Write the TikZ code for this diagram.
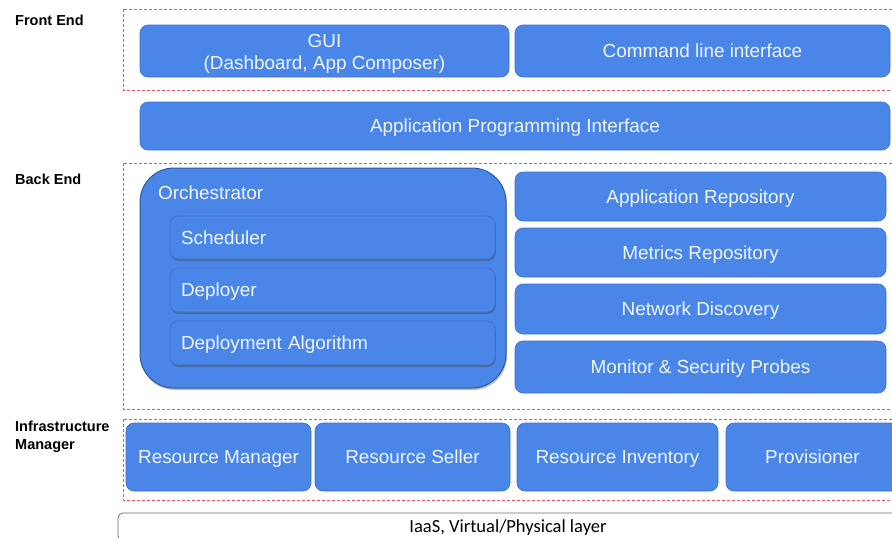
\documentclass[tikz,border=0pt]{standalone}
\usepackage{fontspec}
\setmainfont{Liberation Sans}
\newfontfamily\calfont{Carlito}
\usetikzlibrary{shadows}
\definecolor{cblue}{RGB}{74,134,232}
\definecolor{cedge}{RGB}{60,112,205}
\definecolor{ctext}{RGB}{240,244,255}
\definecolor{cdash}{RGB}{238,80,92}
\definecolor{cgray}{RGB}{110,110,110}
\tikzset{
  blk/.style={rectangle, rounded corners=8pt, fill=cblue, draw=cedge, line width=0.6pt,
    text=ctext, inner sep=0pt, font=\fontsize{18.9}{22.5}\selectfont, align=center,
    text height=13.5pt, text depth=0pt},
  inner/.style={blk, drop shadow={shadow xshift=0.8pt, shadow yshift=-2pt, fill=black!70, opacity=0.45},
    minimum width=325pt, minimum height=43pt, text width=303pt, align=left},
  orch/.style={rectangle, rounded corners=34pt, fill=cblue, draw=cedge!80!black, line width=1pt,
    drop shadow={shadow xshift=1pt, shadow yshift=-2pt, fill=black!60, opacity=0.45}},
  group/.style={draw=cdash, dash pattern=on 3pt off 2pt, line width=1pt},
  layer/.style={font=\bfseries\fontsize{14.5}{18}\selectfont, anchor=north west, inner sep=0pt, align=left},
}
\begin{document}
\begin{tikzpicture}[x=1pt,y=-1pt]
\useasboundingbox (0,0) rectangle (892,538);
\clip (0,0) rectangle (892,538);
\fill[white] (0,0) rectangle (892,538);

% layer captions
\node[layer] (lfe) at (15,15) {Front End};
\node[layer] (lbe) at (15,174) {Back End};
\node[layer] (lim) at (15,421) {Infrastructure\\Manager};

% dashed groups
\draw[group] (123,9) rectangle (894,90);
\draw[group] (123,163) rectangle (894,409);
\draw[group] (123,419) rectangle (894,500);

% front end
\node[blk, minimum width=369pt, minimum height=52pt, text height=37.4pt, text depth=0pt] (gui) at (324.5,51) {GUI\\(Dashboard, App Composer)};
\node[blk, minimum width=375pt, minimum height=52pt] (cli) at (702.5,51) {Command line interface};

% API
\node[blk, minimum width=750pt, minimum height=48pt] (api) at (515,126) {Application Programming Interface};

% orchestrator
\node[orch, minimum width=366pt, minimum height=220pt] (orc) at (323,278) {};
\node[anchor=west, inner sep=0pt, text=ctext, font=\fontsize{18.9}{22}\selectfont,
      text height=13.5pt, text depth=0pt] (orct) at (158,193) {Orchestrator};
\node[inner] (sch) at (332.5,237.5) {Scheduler};
\node[inner, minimum height=44pt] (dep) at (332.5,290) {Deployer};
\node[inner, minimum height=44pt] (alg) at (332.5,343) {Deployment Algorithm};

% back-end services
\node[blk, minimum width=371pt, minimum height=49pt] (arep) at (700.5,196.5) {Application Repository};
\node[blk, minimum width=371pt, minimum height=49pt] (mrep) at (700.5,252.5) {Metrics Repository};
\node[blk, minimum width=371pt, minimum height=50pt] (net) at (700.5,309) {Network Discovery};
\node[blk, minimum width=371pt, minimum height=52pt] (mon) at (700.5,367) {Monitor \& Security Probes};

% infrastructure manager
\node[blk, minimum width=185pt, minimum height=68pt] (rman) at (218.5,457) {Resource Manager};
\node[blk, minimum width=195pt, minimum height=68pt] (rsel) at (412.5,457) {Resource Seller};
\node[blk, minimum width=201pt, minimum height=68pt] (rinv) at (617.5,457) {Resource Inventory};
\node[blk, minimum width=173pt, minimum height=68pt] (prov) at (812.5,457) {Provisioner};

% physical layer
\node[rectangle, rounded corners=5pt, draw=cgray, line width=0.8pt, fill=white,
      minimum width=780pt, minimum height=28pt, inner sep=0pt,
      text height=12.5pt, text depth=2pt,
      font=\calfont\fontsize{18.5}{22}\selectfont] (iaas) at (508,527) {IaaS, Virtual/Physical layer};
\end{tikzpicture}
\end{document}
